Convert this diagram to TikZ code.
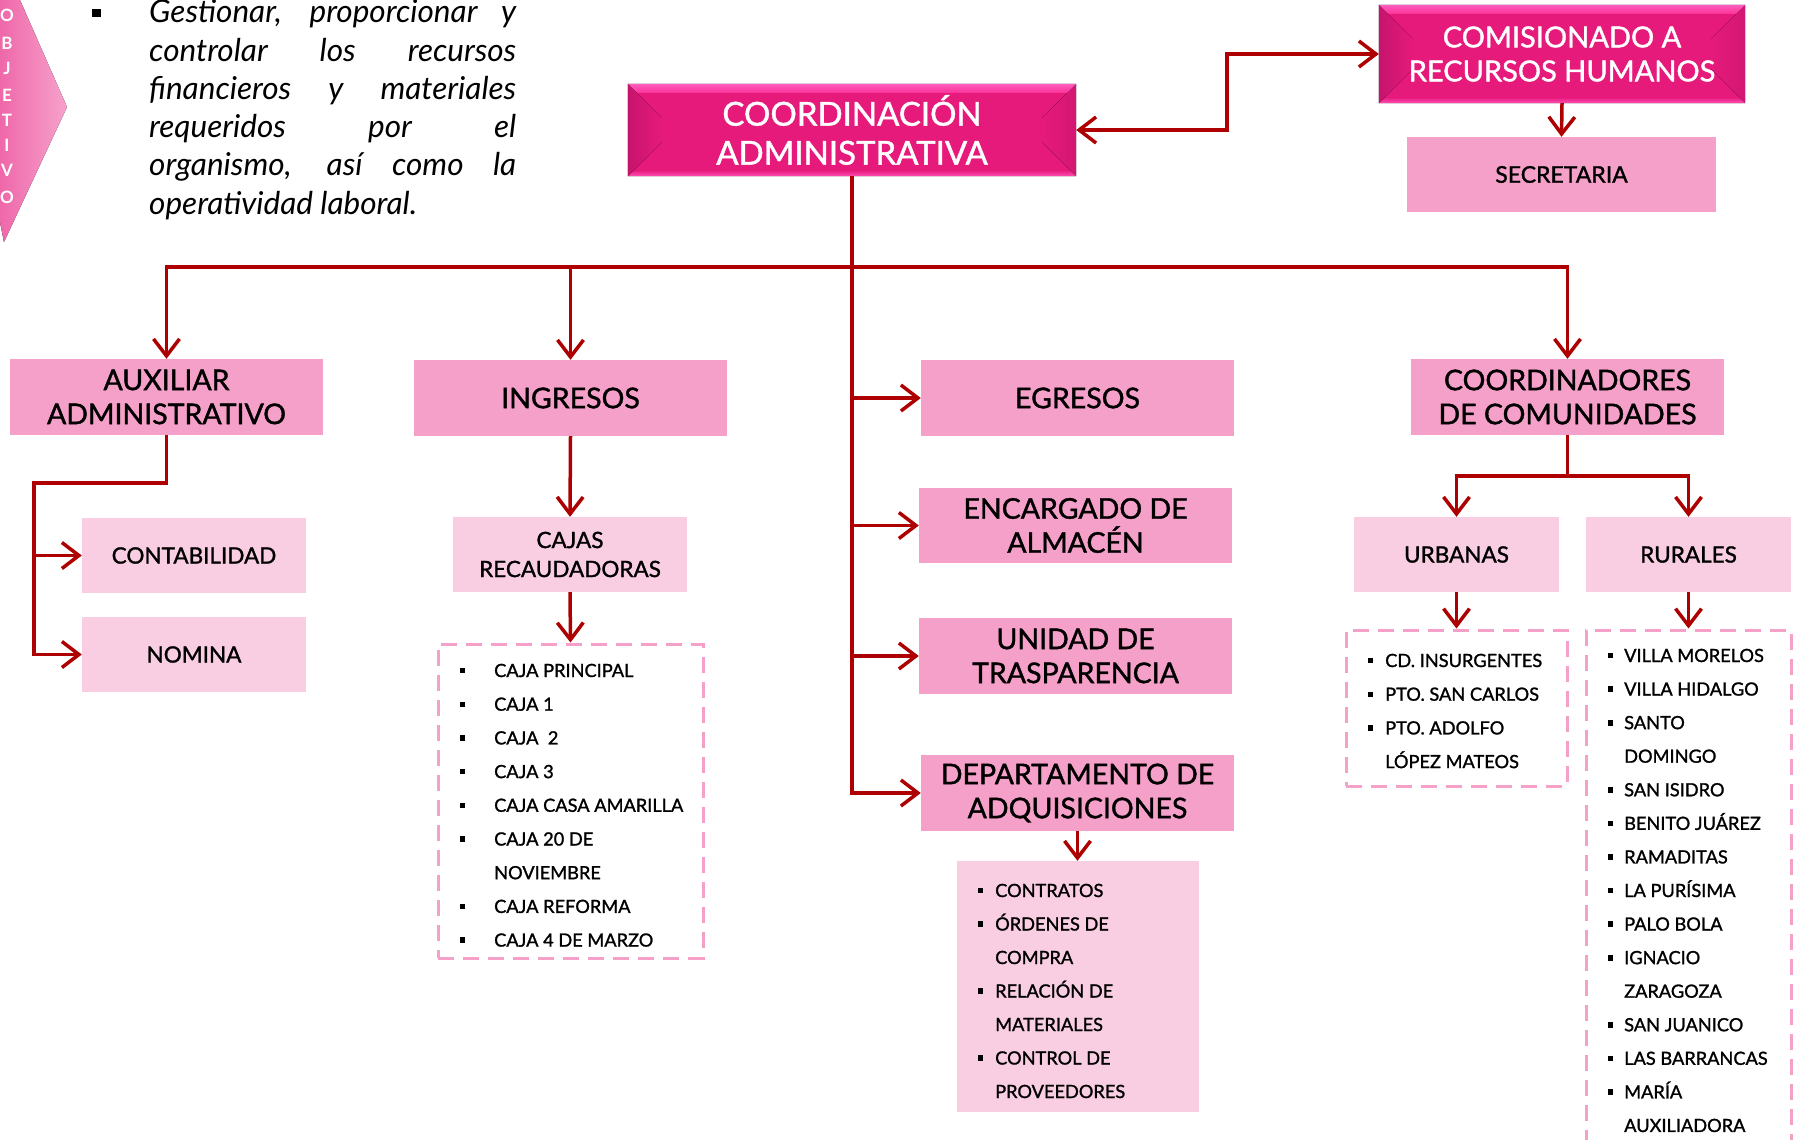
\documentclass[tikz,border=0pt]{standalone}
\usepackage{fontspec}
\setmainfont{Lato}
\newfontfamily\bxf{Lato}[FakeBold=1.3]
\usetikzlibrary{arrows.meta}
\definecolor{magen}{HTML}{E61A7B}
\definecolor{magtop}{HTML}{FF5EBE}
\definecolor{magtop2}{HTML}{FB3298}
\definecolor{magdark}{HTML}{C6146C}
\definecolor{magbot}{HTML}{FF4FB2}
\definecolor{midpink}{HTML}{F5A0C9}
\definecolor{lightpink}{HTML}{F9CDE2}
\definecolor{arrred}{HTML}{AE0000}
\definecolor{chevA}{HTML}{EE68AA}
\definecolor{chevB}{HTML}{F7A2CC}
\newcommand\fsz[2]{\fontsize{#1pt}{#2pt}\selectfont}
\newcommand\sqb{\rule[0.2em]{5.5pt}{5.5pt}}
\newcommand\bevel[1]{%
  \fill[left color=magdark, right color=magen] (#1.north west) -- ([shift={(34,34)}]#1.north west) -- ([shift={(34,-34)}]#1.south west) -- (#1.south west) -- cycle;
  \fill[right color=magdark!60!magen, left color=magen] (#1.north east) -- ([shift={(-34,34)}]#1.north east) -- ([shift={(-34,-34)}]#1.south east) -- (#1.south east) -- cycle;
  \fill[top color=magtop, bottom color=magtop2] (#1.north west) -- (#1.north east) -- ([shift={(-9,9)}]#1.north east) -- ([shift={(9,9)}]#1.north west) -- cycle;
  \fill[bottom color=magbot, top color=magen] (#1.south west) -- ([shift={(6,-6)}]#1.south west) -- ([shift={(-6,-6)}]#1.south east) -- (#1.south east) -- cycle;
}
\begin{document}
\begin{tikzpicture}[x=1pt,y=-1pt,
  dims/.style 2 args={minimum width=#1pt, minimum height=#2pt},
  conn/.style={draw=arrred, line width=3.5pt, -{Straight Barb[length=17pt,width=26pt]}},
  mid/.style={fill=midpink, inner sep=0pt, align=center, font=\bxf\fsz{28.5}{34}},
  light/.style={fill=lightpink, inner sep=0pt, align=center, font=\bxf\fsz{22.5}{29}},
  dbox/.style={draw=midpink, line width=3pt, dash pattern=on 16pt off 9pt, inner sep=0pt},
  item/.style={inner sep=0pt, anchor=base west, font=\bxf\fsz{18.2}{20}},
  para/.style={inner sep=0pt, anchor=base west, font=\fsz{31.5}{34}\itshape},
  objl/.style={inner sep=0pt, text=white, font=\fsz{17}{17}\bfseries}
]
\fill[white] (0,0) rectangle (1796,1140);
\useasboundingbox (0,0) rectangle (1796,1140);

% OBJETIVO chevron
\fill[left color=chevA, right color=chevB] (0,0) -- (20,0) -- (67,107) -- (4,242) -- (0,222) -- cycle;
\foreach \c/\yy [count=\i] in {O/15,B/43,J/68,E/95,T/120,I/145,V/170,O/197}
  \node[objl] (obj\i) at (7,\yy) {\c};

% paragraph
\node[inner sep=0pt] (pbul) at (96,13) {\rule{9pt}{8pt}};
\node[para] (p1) at (149,23) {\makebox[367pt][s]{Gestionar, proporcionar y}};
\node[para] (p2) at (149,61.2) {\makebox[367pt][s]{controlar los recursos}};
\node[para] (p3) at (149,99.4) {\makebox[367pt][s]{financieros y materiales}};
\node[para] (p4) at (149,137.6) {\makebox[367pt][s]{requeridos por el}};
\node[para] (p5) at (149,175.8) {\makebox[367pt][s]{organismo, así como la}};
\node[para] (p6) at (149,214) {operatividad laboral.};

% magenta boxes
\node[fill=magen, inner sep=0pt, dims={448}{92}] (coord) at (852,130) {};
\bevel{coord}
\node[text=white, align=center, font=\bxf\fsz{33}{39}] (coordt) at (coord) {COORDINACIÓN\\ADMINISTRATIVA};
\node[fill=magen, inner sep=0pt, dims={366}{98}] (comi) at (1562,54) {};
\bevel{comi}
\node[text=white, align=center, font=\bxf\fsz{29}{34}] (comit) at (comi) {COMISIONADO A\\RECURSOS HUMANOS};

% mid pink boxes
\node[mid, dims={309}{75}, font=\bxf\fsz{23}{28}] (secr) at (1561.5,174.5) {SECRETARIA};
\node[mid, dims={313}{76}] (aux) at (166.5,397) {AUXILIAR\\ADMINISTRATIVO};
\node[mid, dims={313}{76}] (ing) at (570.5,398) {INGRESOS};
\node[mid, dims={313}{76}] (egr) at (1077.5,398) {EGRESOS};
\node[mid, dims={313}{75}] (enc) at (1075.5,525.5) {ENCARGADO DE\\ALMACÉN};
\node[mid, dims={313}{76}] (uni) at (1075.5,656) {UNIDAD DE\\TRASPARENCIA};
\node[mid, dims={313}{76}] (dep) at (1077.5,793) {DEPARTAMENTO DE\\ADQUISICIONES};
\node[mid, dims={313}{76}] (coordc) at (1567.5,397) {COORDINADORES\\DE COMUNIDADES};

% light pink boxes
\node[light, dims={224}{75}] (cont) at (194,555.5) {CONTABILIDAD};
\node[light, dims={224}{75}] (nom) at (194,654.5) {NOMINA};
\node[light, dims={234}{75}] (cajas) at (570,554.5) {CAJAS\\RECAUDADORAS};
\node[light, dims={205}{75}] (urb) at (1456.5,554.5) {URBANAS};
\node[light, dims={205}{75}] (rur) at (1688.5,554.5) {RURALES};

% list frames
\node[dbox, dims={265}{314}] (ingl) at (570.5,801) {};
\node[fill=lightpink, inner sep=0pt, dims={242}{251}] (adql) at (1077.5,986.5) {};
\node[dbox, dims={221}{156}] (urbl) at (1456.5,708) {};
\node[dbox, dims={205}{540}] (rurl) at (1688.5,900) {};

% list items
\foreach \b/\t [count=\i] in {1/CAJA PRINCIPAL,1/CAJA 1,1/CAJA\ \ 2,1/CAJA 3,1/CAJA CASA AMARILLA,1/CAJA 20 DE,0/NOVIEMBRE,1/CAJA REFORMA,1/CAJA 4 DE MARZO}
  \node[item] (ingi\i) at (494,{677+33.7*(\i-1)}) {\ifnum\b=1\relax\llap{\sqb\hspace{29pt}}\fi\t};
\foreach \b/\t [count=\i] in {1/CONTRATOS,1/ÓRDENES DE,0/COMPRA,1/RELACIÓN DE,0/MATERIALES,1/CONTROL DE,0/PROVEEDORES}
  \node[item] (adqi\i) at (995,{897+33.5*(\i-1)}) {\ifnum\b=1\relax\llap{\sqb\hspace{12pt}}\fi\t};
\foreach \b/\t [count=\i] in {1/CD. INSURGENTES,1/PTO. SAN CARLOS,1/PTO. ADOLFO,0/LÓPEZ MATEOS}
  \node[item] (urbi\i) at (1385,{667+33.7*(\i-1)}) {\ifnum\b=1\relax\llap{\sqb\hspace{12pt}}\fi\t};
\foreach \b/\t [count=\i] in {1/VILLA MORELOS,1/VILLA HIDALGO,1/SANTO,0/DOMINGO,1/SAN ISIDRO,1/BENITO JUÁREZ,1/RAMADITAS,1/LA PURÍSIMA,1/PALO BOLA,1/IGNACIO,0/ZARAGOZA,1/SAN JUANICO,1/LAS BARRANCAS,1/MARÍA,0/AUXILIADORA}
  \node[item] (ruri\i) at (1624,{662+33.57*(\i-1)}) {\ifnum\b=1\relax\llap{\sqb\hspace{11pt}}\fi\t};

% connectors
\coordinate (bus) at (0,267);
\coordinate (jx) at (1227,0);
\coordinate (auxj) at (34,483);
\coordinate (cj) at (0,476);

\draw[conn, {Straight Barb[length=17pt,width=26pt]}-{Straight Barb[length=17pt,width=26pt]}] (coord.east) -- (coord.east -| jx) |- (comi.west);
\draw[conn] (comi.south) -- (secr.north);

\draw[conn] (coord.south) |- (dep.west);
\draw[conn] (coord.south |- egr.west) -- (egr.west);
\draw[conn] (coord.south |- enc.west) -- (enc.west);
\draw[conn] (coord.south |- uni.west) -- (uni.west);
\draw[conn] (coord.south |- bus) -| (aux.north);
\draw[conn] (coord.south |- bus) -| (coordc.north);
\draw[conn] (ing.north |- bus) -- (ing.north);

\draw[conn] (aux.south) |- (auxj) |- (nom.west);
\draw[conn] (auxj |- cont.west) -- (cont.west);

\draw[conn] (ing.south) -- (cajas.north);
\draw[conn] (cajas.south) -- (ingl.north);
\draw[conn] (dep.south) -- (adql.north);

\draw[conn] (coordc.south) -- (coordc.south |- cj) -| (urb.north);
\draw[conn] (coordc.south |- cj) -| (rur.north);
\draw[conn] (urb.south) -- (urbl.north);
\draw[conn] (rur.south) -- (rurl.north);
\end{tikzpicture}
\end{document}
